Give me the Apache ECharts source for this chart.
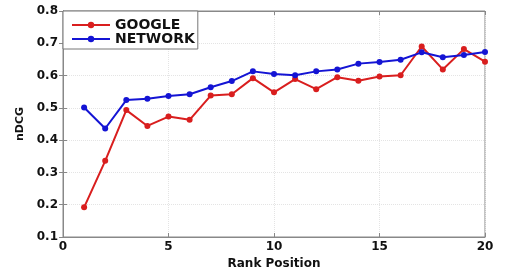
<!DOCTYPE html>
<html><head><meta charset="utf-8">
<script src="https://cdn.jsdelivr.net/npm/echarts@6/dist/echarts.min.js"></script>
<style>html,body{margin:0;padding:0;background:#fff}#c{width:510px;height:277px}</style>
</head><body><div id="c"></div>
<script>
const ranks = [1,2,3,4,5,6,7,8,9,10,11,12,13,14,15,16,17,18,19,20];
const google = [0.192,0.336,0.493,0.444,0.473,0.463,0.538,0.542,0.592,0.548,0.589,0.558,0.595,0.584,0.597,0.601,0.690,0.619,0.682,0.643];
const network = [0.501,0.436,0.524,0.528,0.537,0.542,0.564,0.583,0.613,0.605,0.601,0.613,0.619,0.637,0.642,0.649,0.672,0.657,0.664,0.673];
const xTicks = [0,5,10,15,20];
const yTicks = [0.1,0.2,0.3,0.4,0.5,0.6,0.7,0.8];

const font = 'DejaVu Sans, Liberation Sans, Arial, sans-serif';
const chart = echarts.init(document.getElementById('c'));
const axisLine = {show:true, lineStyle:{color:'#888', width:1}};
chart.setOption({
  animation:false,
  grid:{left:63, right:25, top:11, bottom:40, show:true, borderColor:'#888', borderWidth:1},
  legend:{
    left:63, top:11, orient:'vertical', itemWidth:38, itemHeight:8, itemGap:0,
    padding:[7,3,3,8],
    backgroundColor:'#fff', borderColor:'#777', borderWidth:1, borderRadius:0,
    textStyle:{fontFamily:font, fontWeight:'bold', fontSize:14, lineHeight:13, color:'#111'},
    data:['GOOGLE','NETWORK']
  },
  xAxis:[{
    type:'value', min:0, max:20, interval:5,
    name:'Rank Position', nameLocation:'middle', nameGap:19,
    nameTextStyle:{fontFamily:font, fontWeight:'bold', fontSize:12, color:'#111'},
    axisLine:axisLine, axisTick:{show:true, inside:true, length:4, lineStyle:{color:'#888'}},
    axisLabel:{fontFamily:font, fontWeight:'bold', fontSize:12, color:'#111', margin:4,
      formatter:v=>xTicks.includes(v)?String(v):''},
    splitLine:{show:true, lineStyle:{color:'#e4e4e4', type:'dotted'}}
  },{
    type:'value', min:0, max:20, interval:5, position:'top',
    axisLine:axisLine, axisTick:{show:true, inside:true, length:4, lineStyle:{color:'#888'}},
    axisLabel:{show:false}, splitLine:{show:false}
  }],
  yAxis:[{
    type:'value', min:0.1, max:0.8, interval:0.1,
    name:'nDCG', nameLocation:'middle', nameGap:36,
    nameTextStyle:{fontFamily:font, fontWeight:'bold', fontSize:11, color:'#111'},
    axisLine:axisLine, axisTick:{show:true, inside:true, length:4, lineStyle:{color:'#888'}},
    axisLabel:{fontFamily:font, fontWeight:'bold', fontSize:12, color:'#111', margin:5,
      formatter:v=>{const r=Math.round(v*10)/10; return yTicks.includes(r)?r.toFixed(1):'';}},
    splitLine:{show:true, lineStyle:{color:'#e4e4e4', type:'dotted'}}
  },{
    type:'value', min:0.1, max:0.8, interval:0.1, position:'right',
    axisLine:axisLine, axisTick:{show:true, inside:true, length:4, lineStyle:{color:'#888'}},
    axisLabel:{show:false}, splitLine:{show:false}
  }],
  series:[{
    name:'GOOGLE', type:'line', data:ranks.map((r,i)=>[r,google[i]]),
    color:'#d91e1e', lineStyle:{width:2}, symbol:'circle', symbolSize:6, itemStyle:{color:'#d91e1e'}
  },{
    name:'NETWORK', type:'line', data:ranks.map((r,i)=>[r,network[i]]),
    color:'#1414d4', lineStyle:{width:2}, symbol:'circle', symbolSize:6, itemStyle:{color:'#1414d4'}
  }]
});
</script></body></html>
